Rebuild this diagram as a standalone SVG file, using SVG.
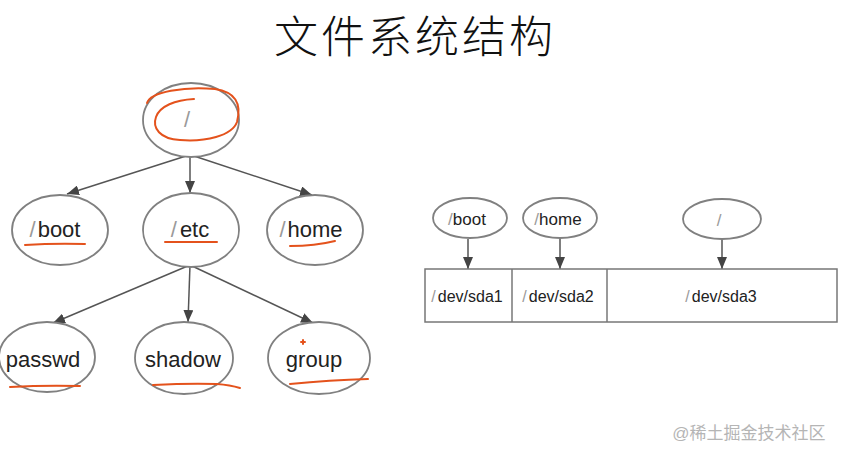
<svg xmlns="http://www.w3.org/2000/svg" width="843" height="457" viewBox="0 0 843 457">
<defs>
<marker id="ah" viewBox="0 0 12 10" markerWidth="12" markerHeight="10" refX="12" refY="5" orient="auto" markerUnits="userSpaceOnUse">
<path d="M0,0 L12,5 L0,10 z" fill="#444"/>
</marker>
<style>
.node{fill:#fff;stroke:#808080;stroke-width:1.8}
.conn{stroke:#555;stroke-width:1.5;fill:none;marker-end:url(#ah)}
.lbl{font-family:"Liberation Sans",Arial,sans-serif;font-size:22px;fill:#222;text-anchor:middle}
.lbs{font-family:"Liberation Sans",Arial,sans-serif;font-size:17px;fill:#222;text-anchor:middle}
.lbd{font-family:"Liberation Sans",Arial,sans-serif;font-size:16px;fill:#222;text-anchor:middle}
.sl{fill:#9a9a9a}
.ink{stroke:#e4521c;stroke-width:2;fill:none;stroke-linecap:round}
.box{fill:#fff;stroke:#777;stroke-width:1.5}
</style>
</defs>
<rect width="843" height="457" fill="#fff"/>
<text x="274" y="53" font-family="'Noto Sans CJK SC',sans-serif" font-size="44" font-weight="300" letter-spacing="3" fill="#111">文件系统结构</text>

<g id="connectors">
<line class="conn" x1="186" y1="156" x2="67" y2="194"/>
<line class="conn" x1="190" y1="156" x2="190" y2="193"/>
<line class="conn" x1="194" y1="156" x2="312" y2="195"/>
<line class="conn" x1="190" y1="265" x2="53" y2="323"/>
<line class="conn" x1="190" y1="265" x2="188" y2="322"/>
<line class="conn" x1="190" y1="265" x2="313" y2="323"/>
<line class="conn" x1="468" y1="239" x2="468" y2="269"/>
<line class="conn" x1="560" y1="239" x2="560" y2="269"/>
<line class="conn" x1="722" y1="240" x2="722" y2="269"/>
</g>

<g id="root">
<ellipse class="node" cx="191" cy="120" rx="48" ry="37"/>
<text class="lbl" x="187" y="127"><tspan class="sl">/</tspan></text>
<path class="ink" d="M147,103 C150,92 185,86 215,89 C235,92 242,103 237,122 C232,136 205,142 180,140 C160,139 152,128 156,117 C160,106 175,100 194,99"/>
</g>
<g id="boot">
<ellipse class="node" cx="60" cy="230" rx="48" ry="35"/>
<text class="lbl" x="55" y="237"><tspan class="sl">/</tspan><tspan dx="2">boot</tspan></text>
<path class="ink" d="M25,245 Q55,243 85,244"/>
</g>
<g id="etc">
<ellipse class="node" cx="191" cy="230" rx="48" ry="37"/>
<text class="lbl" x="190" y="237"><tspan class="sl">/</tspan><tspan dx="3">etc</tspan></text>
<path class="ink" d="M165,242 L217,242"/>
</g>
<g id="home">
<ellipse class="node" cx="315" cy="230" rx="48" ry="35"/>
<text class="lbl" x="311" y="237"><tspan class="sl">/</tspan><tspan dx="2">home</tspan></text>
<path class="ink" d="M290,246 Q315,246 335,241"/>
</g>
<g id="passwd">
<ellipse class="node" cx="47" cy="357" rx="48" ry="35"/>
<text class="lbl" x="43" y="367">passwd</text>
<path class="ink" d="M10,387 Q45,385 80,386"/>
</g>
<g id="shadow">
<ellipse class="node" cx="184" cy="358" rx="49" ry="36"/>
<text class="lbl" x="183" y="367">shadow</text>
<path class="ink" d="M153,385 Q190,383 217,384 Q230,385 240,388"/>
</g>
<g id="group">
<ellipse class="node" cx="319" cy="358" rx="51" ry="36"/>
<text class="lbl" x="314" y="367">group</text>
<path class="ink" d="M290,384 Q330,380 368,379"/>
<path class="ink" stroke-width="1.3" d="M301,342 L305,342 M303,340 L303,344"/>
</g>

<g id="m-boot">
<ellipse class="node" cx="470" cy="218" rx="37" ry="20"/>
<text class="lbs" x="467" y="225"><tspan class="sl">/</tspan>boot</text>
</g>
<g id="m-home">
<ellipse class="node" cx="560" cy="218" rx="37" ry="20"/>
<text class="lbs" x="558" y="225"><tspan class="sl">/</tspan>home</text>
</g>
<g id="m-root">
<ellipse class="node" cx="722" cy="219" rx="39" ry="20"/>
<text class="lbs" x="719" y="226"><tspan class="sl">/</tspan></text>
</g>
<g id="disk">
<rect class="box" x="425" y="269" width="412" height="53"/>
<line class="box" x1="512" y1="269" x2="512" y2="322"/>
<line class="box" x1="607" y1="269" x2="607" y2="322"/>
<text class="lbd" x="467" y="302"><tspan class="sl">/</tspan><tspan dx="2">dev/sda1</tspan></text>
<text class="lbd" x="558" y="302"><tspan class="sl">/</tspan><tspan dx="2">dev/sda2</tspan></text>
<text class="lbd" x="721" y="302"><tspan class="sl">/</tspan><tspan dx="2">dev/sda3</tspan></text>
</g>
<text x="749" y="439" text-anchor="middle" font-family="'Liberation Sans','Noto Sans CJK SC',sans-serif" font-size="17" fill="#b5b5b5">@稀土掘金技术社区</text>
</svg>
